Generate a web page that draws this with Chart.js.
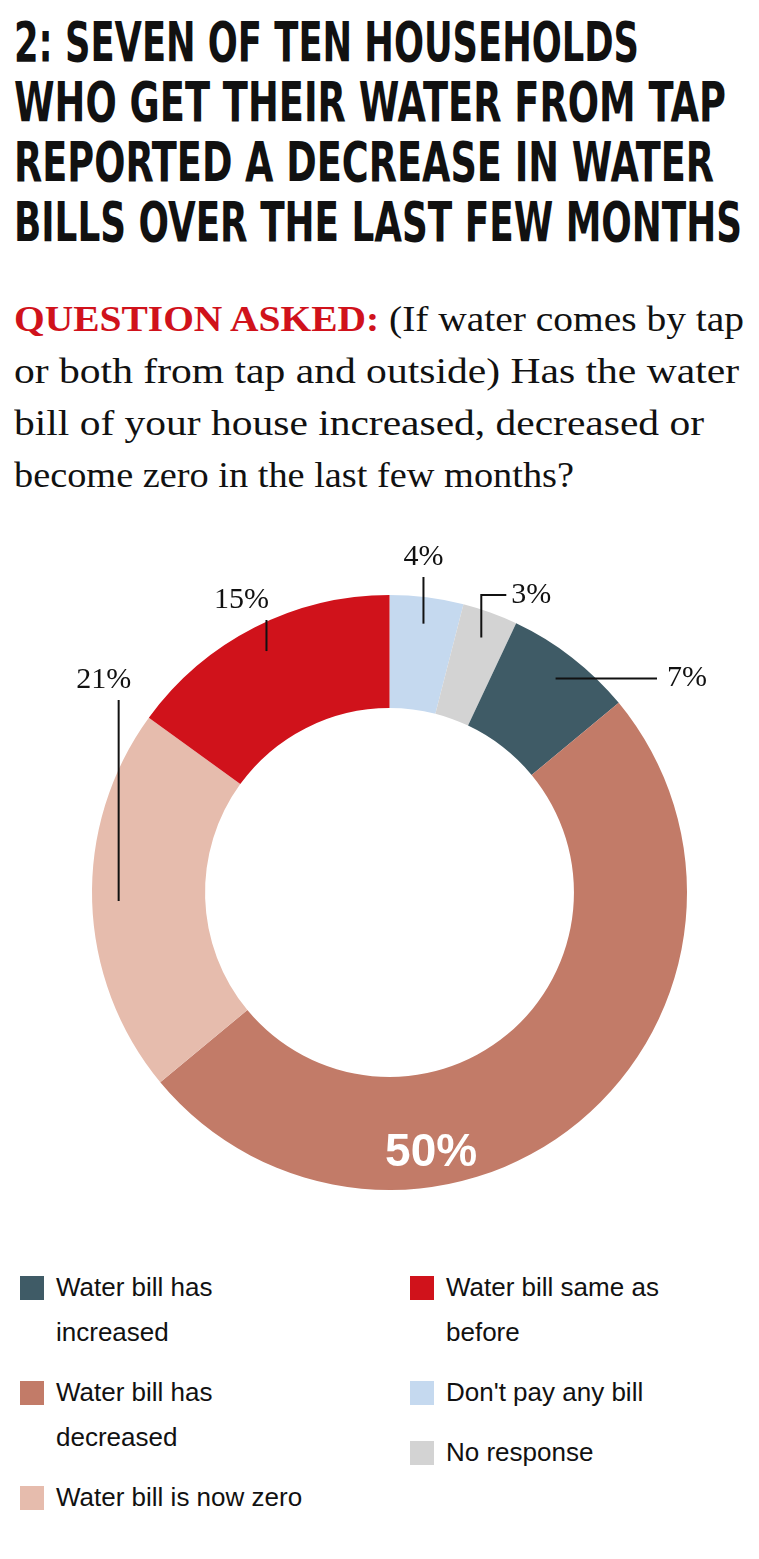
<!DOCTYPE html>
<html>
<head>
<meta charset="utf-8">
<script src="https://cdn.jsdelivr.net/npm/chart.js@4"></script>
<style>
  body { margin: 0; background: #fff; width: 759px; height: 1559px; overflow: hidden; }
  #title { position: absolute; left: 14px; top: 12px; font-family: "DejaVu Sans Condensed", "Liberation Sans", sans-serif; font-weight: bold; font-size: 56px; line-height: 60px; color: #111; }
  #question { position: absolute; left: 14px; top: 294px; font-family: "Liberation Serif", "DejaVu Serif", serif; font-size: 35px; line-height: 52px; color: #111; }
  #question b { color: #d0121b; }
  .ln { white-space: nowrap; transform-origin: 0 0; display: block; width: max-content; }
  #wrap { position: absolute; left: 0; top: 540px; width: 759px; height: 680px; }
  #legend { position: absolute; left: 20px; top: 1265px; width: 730px; font-family: "Liberation Sans", Arial, sans-serif; font-size: 26px; line-height: 45px; color: #111; }
  .col { position: absolute; top: 0; width: 380px; }
  .item { position: relative; padding-left: 36px; margin-bottom: 15px; }
  .sw { position: absolute; left: 0; top: 11px; width: 24px; height: 24px; }
</style>
</head>
<body>
<div id="title">
  <span class="ln" data-w="625">2: SEVEN OF TEN HOUSEHOLDS</span>
  <span class="ln" data-w="712">WHO GET THEIR WATER FROM TAP</span>
  <span class="ln" data-w="700">REPORTED A DECREASE IN WATER</span>
  <span class="ln" data-w="728">BILLS OVER THE LAST FEW MONTHS</span>
</div>
<div id="question">
  <span class="ln" data-w="730"><b>QUESTION ASKED:</b> (If water comes by tap</span>
  <span class="ln" data-w="725">or both from tap and outside) Has the water</span>
  <span class="ln" data-w="690">bill of your house increased, decreased or</span>
  <span class="ln" data-w="560">become zero in the last few months?</span>
</div>
<div id="wrap"><canvas id="pie"></canvas></div>
<div id="legend"></div>
<script>
const categories = ["Don't pay any bill", 'No response', 'Water bill has increased', 'Water bill has decreased', 'Water bill is now zero', 'Water bill same as before'];
const values = [4, 3, 7, 50, 21, 15];
const colors = ['#c5d9ef', '#d3d3d3', '#3f5b66', '#c27b68', '#e6bcad', '#d0121b'];
const valueLabels = ['4%', '3%', '7%', '50%', '21%', '15%'];

// squeeze each text line to the reference width
document.querySelectorAll('.ln').forEach(el => {
  const w = el.getBoundingClientRect().width;
  el.style.transform = 'scaleX(' + (el.dataset.w / w) + ')';
});

const labelPlugin = {
  id: 'labels',
  afterDatasetsDraw(chart) {
    const ctx = chart.ctx;
    const arcs = chart.getDatasetMeta(0).data;
    ctx.save();
    ctx.font = '30px "Liberation Serif", serif';
    ctx.fillStyle = '#111';
    ctx.strokeStyle = '#111';
    ctx.lineWidth = 2;
    ctx.textBaseline = 'middle';
    arcs.forEach((a, i) => {
      const mid = (a.startAngle + a.endAngle) / 2;
      const cx = a.x, cy = a.y, R = a.outerRadius, r = a.innerRadius;
      if (i === 3) {
        const rr = (R + r) / 2 + 20;
        ctx.font = 'bold 46px "Liberation Sans", sans-serif';
        ctx.fillStyle = '#fff';
        ctx.textAlign = 'center';
        ctx.fillText(valueLabels[i], cx + Math.cos(mid) * rr * 0.25, cy + rr);
        ctx.font = '30px "Liberation Serif", serif';
        ctx.fillStyle = '#111';
        return;
      }
      const inner = (R + r) / 2 + 30;
      const px = cx + Math.cos(mid) * inner, py = cy + Math.sin(mid) * inner;
      ctx.beginPath();
      if (i === 0) {
        ctx.moveTo(px, py); ctx.lineTo(px, cy - R - 18); ctx.stroke();
        ctx.textAlign = 'center'; ctx.fillText(valueLabels[i], px, cy - R - 38);
      } else if (i === 1) {
        ctx.moveTo(px, py); ctx.lineTo(px, cy - R); ctx.lineTo(px + 25, cy - R); ctx.stroke();
        ctx.textAlign = 'left'; ctx.fillText(valueLabels[i], px + 30, cy - R);
      } else if (i === 2) {
        ctx.moveTo(px, py); ctx.lineTo(cx + R - 30, py); ctx.stroke();
        ctx.textAlign = 'left'; ctx.fillText(valueLabels[i], cx + R - 20, py);
      } else if (i === 4) {
        ctx.moveTo(px, py); ctx.lineTo(px, cy - R + 105); ctx.stroke();
        ctx.textAlign = 'center'; ctx.fillText(valueLabels[i], px - 15, cy - R + 85);
      } else if (i === 5) {
        ctx.moveTo(px, py); ctx.lineTo(px, cy - R + 25); ctx.stroke();
        ctx.textAlign = 'center'; ctx.fillText(valueLabels[i], px - 25, cy - R + 5);
      }
    });
    ctx.restore();
  }
};

new Chart(document.getElementById('pie'), {
  type: 'doughnut',
  data: {
    labels: categories,
    datasets: [{ data: values, backgroundColor: colors, borderWidth: 0 }]
  },
  options: {
    responsive: true,
    maintainAspectRatio: false,
    animation: false,
    cutout: '62%',
    layout: { padding: { top: 55, bottom: 30, left: 80, right: 60 } },
    plugins: { legend: { display: false }, tooltip: { enabled: false } }
  },
  plugins: [labelPlugin]
});

const leftItems = [[2, 'Water bill has<br>increased'], [3, 'Water bill has<br>decreased'], [4, 'Water bill is now zero']];
const rightItems = [[5, 'Water bill same as<br>before'], [0, "Don't pay any bill"], [1, 'No response']];
const legend = document.getElementById('legend');
[[leftItems, 0], [rightItems, 390]].forEach(([items, x]) => {
  const col = document.createElement('div');
  col.className = 'col';
  col.style.left = x + 'px';
  items.forEach(([i, txt]) => {
    col.innerHTML += '<div class="item"><span class="sw" style="background:' + colors[i] + '"></span>' + txt + '</div>';
  });
  legend.appendChild(col);
});
</script>
</body>
</html>
